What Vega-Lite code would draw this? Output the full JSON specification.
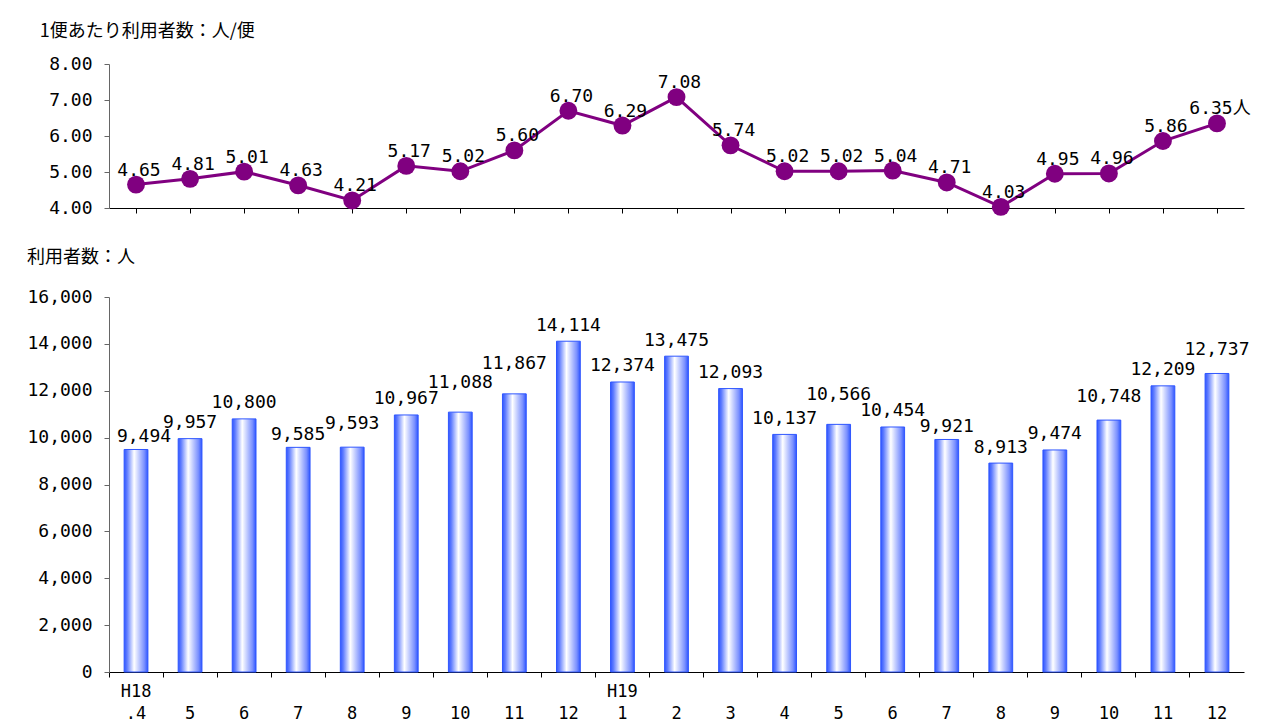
{
  "$schema": "https://vega.github.io/schema/vega-lite/v6.json",
  "padding": {"left": 26, "top": 23, "right": 5, "bottom": 0},
  "background": "white",
  "spacing": 32,
  "datasets": {
    "d": [
      {"m": "H18.4", "u": 9494, "r": 4.65, "rl": "4.65"},
      {"m": "H18.5", "u": 9957, "r": 4.81, "rl": "4.81"},
      {"m": "H18.6", "u": 10800, "r": 5.01, "rl": "5.01"},
      {"m": "H18.7", "u": 9585, "r": 4.63, "rl": "4.63"},
      {"m": "H18.8", "u": 9593, "r": 4.21, "rl": "4.21"},
      {"m": "H18.9", "u": 10967, "r": 5.17, "rl": "5.17"},
      {"m": "H18.10", "u": 11088, "r": 5.02, "rl": "5.02"},
      {"m": "H18.11", "u": 11867, "r": 5.60, "rl": "5.60"},
      {"m": "H18.12", "u": 14114, "r": 6.70, "rl": "6.70"},
      {"m": "H19.1", "u": 12374, "r": 6.29, "rl": "6.29"},
      {"m": "H19.2", "u": 13475, "r": 7.08, "rl": "7.08"},
      {"m": "H19.3", "u": 12093, "r": 5.74, "rl": "5.74"},
      {"m": "H19.4", "u": 10137, "r": 5.02, "rl": "5.02"},
      {"m": "H19.5", "u": 10566, "r": 5.02, "rl": "5.02"},
      {"m": "H19.6", "u": 10454, "r": 5.04, "rl": "5.04"},
      {"m": "H19.7", "u": 9921, "r": 4.71, "rl": "4.71"},
      {"m": "H19.8", "u": 8913, "r": 4.03, "rl": "4.03"},
      {"m": "H19.9", "u": 9474, "r": 4.95, "rl": "4.95"},
      {"m": "H19.10", "u": 10748, "r": 4.96, "rl": "4.96"},
      {"m": "H19.11", "u": 12209, "r": 5.86, "rl": "5.86"},
      {"m": "H19.12", "u": 12737, "r": 6.35, "rl": "6.35人"}
    ]
  },
  "config": {
    "font": "DejaVu Sans Mono, Noto Sans CJK JP",
    "view": {"stroke": null},
    "axis": {
      "labelFont": "DejaVu Sans Mono",
      "labelFontSize": 18,
      "labelColor": "#000000",
      "grid": false,
      "tickSize": 5,
      "tickColor": "#666666",
      "domainColor": "#666666"
    },
    "text": {"fontSize": 18, "color": "#000000", "baseline": "alphabetic"},
    "title": {"font": "Noto Sans CJK JP", "fontSize": 18, "fontWeight": "normal", "color": "#000000", "anchor": "start", "frame": "bounds"}
  },
  "vconcat": [
    {
      "width": 1135,
      "height": 144,
      "title": {"text": "1便あたり利用者数：人/便", "offset": 14, "dx": -9},
      "data": {"name": "d"},
      "encoding": {
        "x": {
          "field": "m", "type": "nominal", "sort": null,
          "scale": {"paddingInner": 0, "paddingOuter": 0},
          "axis": {"title": null, "labels": false, "bandPosition": 0, "domainColor": "#000000", "tickColor": "#000000"}
        },
        "y": {
          "field": "r", "type": "quantitative",
          "scale": {"domain": [4, 8], "nice": false, "zero": false},
          "axis": {"title": null, "values": [4, 5, 6, 7, 8], "format": ".2f", "labelPadding": 12}
        }
      },
      "layer": [
        {"mark": {"type": "line", "color": "#800080", "strokeWidth": 3}},
        {"mark": {"type": "text", "dy": -9, "dx": 3}, "encoding": {"text": {"field": "rl"}}},
        {"mark": {"type": "circle", "size": 320, "color": "#800080", "opacity": 1}}
      ]
    },
    {
      "width": 1135,
      "height": 375,
      "title": {"text": "利用者数：人", "offset": 21},
      "data": {"name": "d"},
      "encoding": {
        "x": {
          "field": "m", "type": "nominal", "sort": null,
          "scale": {
            "paddingInner": 0, "paddingOuter": 0,
            "domain": ["H18.4", "H18.5", "H18.6", "H18.7", "H18.8", "H18.9", "H18.10", "H18.11", "H18.12", "H19.1", "H19.2", "H19.3", "H19.4", "H19.5", "H19.6", "H19.7", "H19.8", "H19.9", "H19.10", "H19.11", "H19.12"]
          },
          "axis": {
            "title": null, "bandPosition": 0, "labelAngle": 0,
            "labelPadding": 6, "labelLineHeight": 22, "labelFontSize": 17,
            "domainColor": "#000000", "tickColor": "#000000",
            "labelExpr": "datum.value == 'H18.4' ? ['H18', '.4'] : datum.value == 'H19.1' ? ['H19', '1'] : [' ', split(datum.value, '.')[1]]"
          }
        },
        "y": {
          "field": "u", "type": "quantitative",
          "scale": {"domain": [0, 16000], "nice": false},
          "axis": {"title": null, "values": [0, 2000, 4000, 6000, 8000, 10000, 12000, 14000, 16000], "format": ",d", "labelPadding": 12}
        }
      },
      "layer": [
        {"transform": [{"filter": "datum.m == 'H18.4'"}], "mark": {"type": "text", "dy": -7, "dx": 8}, "encoding": {"text": {"field": "u", "format": ",d"}}},
        {"transform": [{"filter": "indexof(['H18.7', 'H19.7'], datum.m) >= 0"}], "mark": {"type": "text", "dy": -7.5}, "encoding": {"text": {"field": "u", "format": ",d"}}},
        {"transform": [{"filter": "indexof(['H18.10', 'H18.11', 'H19.5'], datum.m) >= 0"}], "mark": {"type": "text", "dy": -24.5}, "encoding": {"text": {"field": "u", "format": ",d"}}},
        {"transform": [{"filter": "indexof(['H18.8', 'H19.10', 'H19.12'], datum.m) >= 0"}], "mark": {"type": "text", "dy": -18.5}, "encoding": {"text": {"field": "u", "format": ",d"}}},
        {"transform": [{"filter": "indexof(['H18.4', 'H18.7', 'H19.7', 'H18.10', 'H18.11', 'H19.5', 'H18.8', 'H19.10', 'H19.12'], datum.m) < 0"}], "mark": {"type": "text", "dy": -10.6}, "encoding": {"text": {"field": "u", "format": ",d"}}},
        {
          "mark": {
            "type": "bar",
            "width": {"band": 0.44},
            "stroke": "#2f56ff",
            "strokeWidth": 1,
            "fill": {
              "gradient": "linear", "x1": 0, "x2": 1, "y1": 0, "y2": 0,
              "stops": [
                {"offset": 0, "color": "#2f56ff"},
                {"offset": 0.12, "color": "#5f7cff"},
                {"offset": 0.42, "color": "#ffffff"},
                {"offset": 0.85, "color": "#7a90ff"},
                {"offset": 1, "color": "#2f56ff"}
              ]
            }
          }
        }
      ]
    }
  ]
}
